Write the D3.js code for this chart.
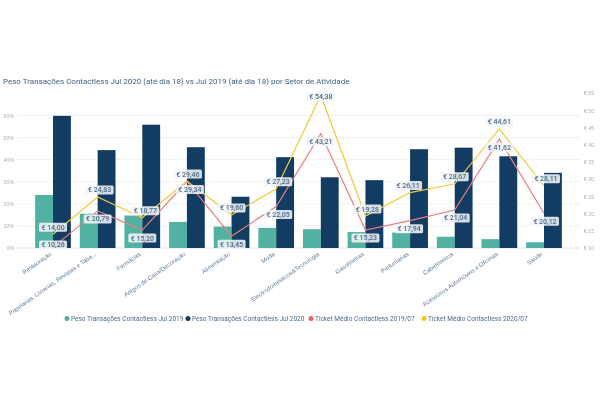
<!DOCTYPE html>
<html>
<head>
<meta charset="utf-8">
<style>
    html, body { margin: 0; padding: 0; background: #fff; }
    svg { display: block; font-family: Roboto, sans-serif; filter: blur(0.35px); }
    .axis path, .axis line { display: none; }
</style>
<script src="https://cdn.jsdelivr.net/npm/d3@7"></script>
</head>
<body>
<svg width="600" height="400"></svg>
<script>
const categories = ["Restauração", "Papelarias, Livrarias, Revistas e Taba...", "Farmácias", "Artigos de Casa/Decoração",
    "Alimentação", "Moda", "Electrodomésticos&Tecnologia", "Gasolineiras", "Perfumarias", "Cabeleireiros",
    "Acessórios Automóveis e Oficinas", "Saúde"];
const peso2019 = [24, 15.5, 14.7, 11.8, 9.7, 9.1, 8.5, 7.2, 7, 5.1, 4, 2.6];
const peso2020 = [59.8, 44.3, 55.8, 45.6, 23.2, 41.1, 32, 30.7, 44.7, 45.4, 41.5, 34];
const ticket2019 = [10.26, 20.79, 15.20, 29.34, 13.45, 22.05, 43.21, 15.23, 17.94, 21.04, 41.62, 20.12];
const ticket2020 = [14.00, 24.83, 18.77, 29.46, 19.60, 27.23, 54.38, 19.28, 26.11, 28.67, 44.61, 28.11];
const pesoTicks = [0, 10, 20, 30, 40, 50, 60];
const ticketTicks = [10, 15, 20, 25, 30, 35, 40, 45, 50, 55];
const legendNames = ["Peso Transações Contactless Jul 2019", "Peso Transações Contactless Jul 2020",
    "Ticket Médio Contactless 2019/07", "Ticket Médio Contactless 2020/07"];

const teal = "#52b2a2", navy = "#123c62", red = "#e97f7d", yellow = "#f2c93c";
const labelColor = "#4b6c8c", tickColor = "#a9adb1";

const svg = d3.select("svg");

const x = d3.scaleBand().domain(categories).range([30.7, 566.3]).paddingInner(0.2).paddingOuter(0.1);
const yPeso = d3.scaleLinear().domain([0, 60]).range([248, 115.4]);
const yTicket = d3.scaleLinear().domain([10, 55]).range([248, 93.2]);

svg.append("text")
    .attr("x", 3)
    .attr("y", 84)
    .attr("font-size", 8)
    .attr("fill", "#3f6385")
    .text("Peso Transações Contactless Jul 2020 (até dia 18) vs Jul 2019 (até dia 18) por Setor de Atividade");

// grid
svg.append("g")
    .selectAll("line")
    .data(pesoTicks)
    .join("line")
    .attr("x1", 18)
    .attr("x2", 580)
    .attr("y1", d => yPeso(d))
    .attr("y2", d => yPeso(d))
    .attr("stroke", d => d === 0 ? "#dfe3e6" : "#f0f1f2");

// axes
const axisLeft = svg.append("g")
    .attr("class", "axis")
    .attr("transform", "translate(14,0)")
    .call(d3.axisLeft(yPeso).tickValues(pesoTicks).tickFormat(d => d + "%").tickSize(0).tickPadding(0));
axisLeft.selectAll("text").attr("font-size", 5.2).attr("fill", tickColor);

const axisRight = svg.append("g")
    .attr("class", "axis")
    .attr("transform", "translate(584,0)")
    .call(d3.axisRight(yTicket).tickValues(ticketTicks).tickFormat(d => "€ " + d).tickSize(0).tickPadding(0));
axisRight.selectAll("text").attr("font-size", 5.2).attr("fill", tickColor);

const axisBottom = svg.append("g")
    .attr("class", "axis")
    .attr("transform", "translate(0,248)")
    .call(d3.axisBottom(x).tickSize(0).tickPadding(0));
axisBottom.selectAll("text")
    .attr("font-size", 6)
    .attr("fill", "#5f7c99")
    .attr("text-anchor", "end")
    .attr("dy", 0)
    .attr("transform", "translate(-1,7) rotate(-35)");

// bars
const barsOf = (values, color, offset) => svg.append("g")
    .selectAll("rect")
    .data(values)
    .join("rect")
    .attr("x", (d, i) => x(categories[i]) + offset)
    .attr("width", x.bandwidth() / 2)
    .attr("y", d => yPeso(d))
    .attr("height", d => yPeso(0) - yPeso(d))
    .attr("fill", color);

barsOf(peso2019, teal, 0);
barsOf(peso2020, navy, x.bandwidth() / 2);

// lines
const lineOf = (values, color) => svg.append("path")
    .datum(values)
    .attr("fill", "none")
    .attr("stroke", color)
    .attr("stroke-width", 1.2)
    .attr("d", d3.line()
        .x((d, i) => x(categories[i]) + x.bandwidth() / 2)
        .y(d => yTicket(d)));

lineOf(ticket2019, red);
lineOf(ticket2020, yellow);

// data labels, kept inside the plot; the small shifts stand in for the collision avoidance of the original
const shift2019 = [0, 0, 0, 3, 0, 2, 0, 0, -1, 1, 0, 1];
const shift2020 = [0, 2, 3, 1, 0, 2, 0, 2, -2, 0, 0, 2];

const labelsOf = (values, dy, shift) => {
    const g = svg.append("g")
        .selectAll("g")
        .data(values)
        .join("g")
        .attr("transform", (d, i) => {
            const cx = x(categories[i]) + x.bandwidth() / 2 + shift[i];
            const cy = Math.min(245, Math.max(97, yTicket(d) + dy));
            return `translate(${cx},${cy})`;
        });
    g.append("rect")
        .attr("x", -14)
        .attr("y", -4.5)
        .attr("width", 28)
        .attr("height", 9)
        .attr("rx", 1.5)
        .attr("fill", "#f1f4f6")
        .attr("fill-opacity", 0.88);
    g.append("text")
        .attr("text-anchor", "middle")
        .attr("dy", "0.35em")
        .attr("font-size", 7)
        .attr("font-weight", 500)
        .attr("fill", labelColor)
        .text(d => "€ " + d.toFixed(2).replace(".", ","));
};

labelsOf(ticket2019, 8, shift2019);
labelsOf(ticket2020, -7, shift2020);

// legend
const legendColors = [teal, navy, "#e8625f", "#f2c80f"];
const legendX = [67, 188, 311, 424];
const legend = svg.append("g")
    .selectAll("g")
    .data(legendNames)
    .join("g")
    .attr("transform", (d, i) => `translate(${legendX[i]},318.5)`);
legend.append("circle")
    .attr("r", 2.5)
    .attr("fill", (d, i) => legendColors[i]);
legend.append("text")
    .attr("x", 4)
    .attr("dy", "0.35em")
    .attr("font-size", 6.5)
    .attr("fill", "#4b6c8c")
    .text(d => d);
</script>
</body>
</html>
